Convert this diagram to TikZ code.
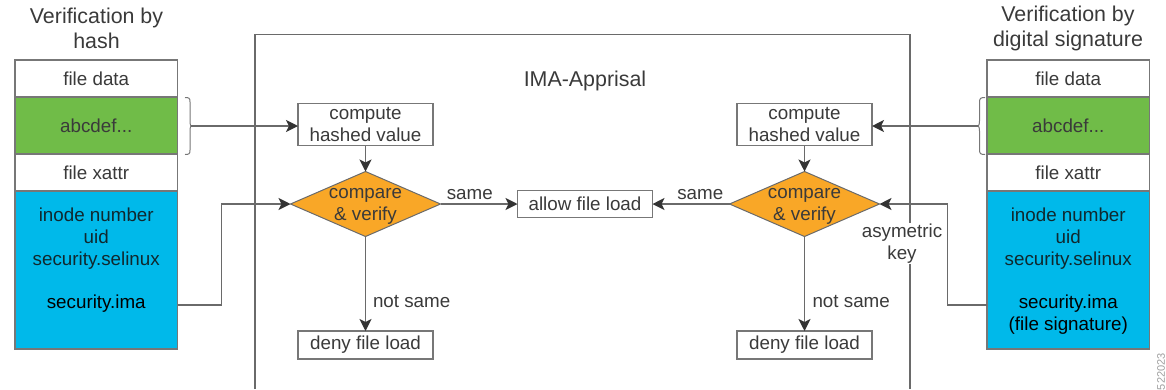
\documentclass[tikz,border=0pt]{standalone}
\usepackage{fontspec}
\setmainfont{Liberation Sans}
\usetikzlibrary{arrows.meta,shapes.geometric,calc}
\definecolor{txt}{HTML}{3A3A3A}
\definecolor{dtxt}{HTML}{10282E}
\definecolor{ln}{HTML}{6A6A6A}
\definecolor{tip}{HTML}{333333}
\definecolor{bd}{HTML}{777777}
\definecolor{grn}{HTML}{70BC48}
\definecolor{blu}{HTML}{00B9EA}
\definecolor{org}{HTML}{F9A727}
\tikzset{
 base/.style={font=\fontsize{18.8}{22}\selectfont,text=txt,align=center,inner sep=0pt,outer sep=0pt},
 cell/.style={base,draw=bd,line width=1.1pt,minimum width=162.5pt},
 flowbox/.style={base,draw=bd,line width=1.3pt,fill=white,minimum width=135pt},
 decide/.style={base,diamond,draw=ln,line width=1pt,fill=org,minimum width=150pt,minimum height=65pt,aspect=2.3},
 conn/.style={draw=ln,line width=1.2pt,-{Stealth[length=12pt,width=12pt,inset=3pt,color=tip]},shorten >=0pt},
 bracepath/.style={draw=bd,line width=1pt},
 lbl/.style={base,text=txt},
 dlbl/.style={base,text=dtxt},
 head/.style={base,font=\fontsize{21.4}{24.5}\selectfont}
}
\begin{document}
\begin{tikzpicture}[x=1pt,y=-1pt]
\useasboundingbox (0,0) rectangle (1166,389);
\clip (0,0) rectangle (1166,389);
% frame
\draw[draw=ln,line width=1.2pt] (255,389) -- (255,34.5) -- (910,34.5) -- (910,389);
\node[lbl,font=\fontsize{21.4}{22}\selectfont] (title) at (585,81) {IMA-Apprisal};
% headings
\node[head] (hl) at (96.5,28.5) {Verification by\\hash};
\node[head] (hr) at (1068,28.5) {Verification by\\digital signature};
% left stack
\node[cell,fill=white,minimum height=37pt] (ld) at (96.25,78.5) {file data};
\node[cell,fill=grn,minimum height=57pt] (lg) at (96.25,125.5) {abcdef...};
\node[cell,fill=white,minimum height=37pt] (lx) at (96.25,172.5) {file xattr};
\node[cell,fill=blu,minimum height=158pt] (lb) at (96.25,270) {};
\node[dlbl] (lt) at (96.25,238.5) {inode number\\uid\\security.selinux};
\node[dlbl,text=black] (li) at (96.25,304) {security.ima};
% right stack
\node[cell,fill=white,minimum height=37pt] (rd) at (1068.25,78.5) {file data};
\node[cell,fill=grn,minimum height=57pt] (rg) at (1068.25,125.5) {abcdef...};
\node[cell,fill=white,minimum height=37pt] (rx) at (1068.25,172.5) {file xattr};
\node[cell,fill=blu,minimum height=158pt] (rb) at (1068.25,270) {};
\node[dlbl] (rt) at (1068.25,238.5) {inode number\\uid\\security.selinux};
\node[dlbl,text=black] (ri) at (1068.25,315) {security.ima\\(file signature)};
% flow left
\node[flowbox,minimum height=42.5pt] (cl) at (365.5,124.5) {compute\\hashed value};
\node[decide] (vl) at (365.5,204) {};
\node[lbl] at (365.5,206) {compare\\\& verify};
\node[flowbox,minimum height=28pt] (nl) at (365.5,345) {deny file load};
% flow right
\node[flowbox,minimum height=42.5pt] (cr) at (804.5,124.5) {compute\\hashed value};
\node[decide] (vr) at (804.5,204) {};
\node[lbl] at (804.5,206) {compare\\\& verify};
\node[flowbox,minimum height=28pt] (nr) at (804.5,345) {deny file load};
% allow
\node[flowbox,minimum height=27.5pt] (al) at (585,204) {allow file load};
% braces
\coordinate (bl) at (191,126);
\coordinate (br) at (978,126);
\draw[bracepath] (185,97.5) .. controls (189,97.5) and (190,98) .. (190,102) -- (190,121) .. controls (190,124) and (190.5,126) .. (bl) .. controls (190.5,126) and (190,128) .. (190,131) -- (190,150) .. controls (190,154) and (189,154.5) .. (185,154.5);
\draw[bracepath] (985,97.5) .. controls (981,97.5) and (979.5,98) .. (979.5,102) -- (979.5,121) .. controls (979.5,124) and (979,126) .. (br) .. controls (979,126) and (979.5,128) .. (979.5,131) -- (979.5,150) .. controls (979.5,154) and (981,154.5) .. (985,154.5);
% connectors
\draw[conn] (bl) -- (bl -| cl.west);
\draw[conn] (br) -- (br -| cr.east);
\draw[conn] (cl) -- (vl.north);
\draw[conn] (cr) -- (vr.north);
\draw[conn] (vl) -- (nl.north);
\draw[conn] (vr) -- (nr.north);
\draw[conn] (vl.east) -- (al.west) node[lbl,pos=.38,above=4pt,anchor=south] (sl) {same};
\draw[conn] (vr.west) -- (al.east) node[lbl,pos=.38,above=4pt,anchor=south] (sr) {same};
\coordinate (lo) at (lb.east |- 0,305);
\coordinate (ro) at (rb.west |- 0,305);
\draw[conn] (lo) -- (221.5,305) -- (221.5,204) -- (vl.west);
\draw[conn] (ro) -- (947.5,305) -- (947.5,204) -- (vr.east);
% labels
\node[lbl,anchor=west] (nsl) at (373,301.5) {not same};
\node[lbl,anchor=west] (nsr) at (812.5,301.5) {not same};
\node[lbl,fill=white,inner sep=1pt] (ak) at (902,243.5) {asymetric\\key};
\node[lbl,font=\fontsize{11}{11}\selectfont,text=gray!75,rotate=90,anchor=west] (num) at (1161,390) {522023};
\end{tikzpicture}
\end{document}
